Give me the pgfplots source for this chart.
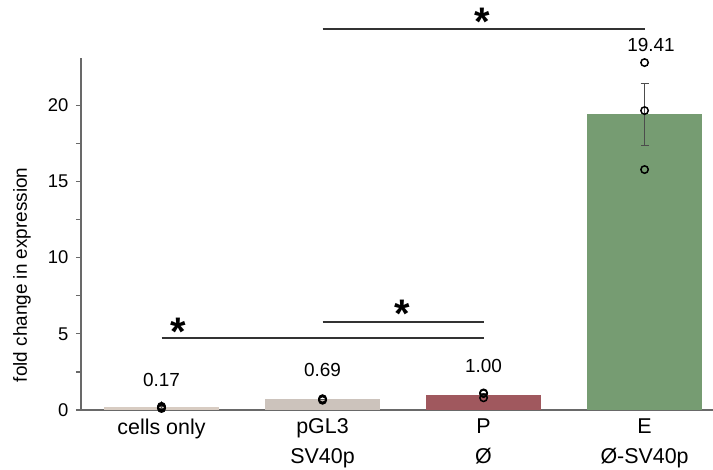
\documentclass[border=0pt]{standalone}
\usepackage{pgfplots}
\pgfplotsset{compat=1.18}
\usepackage{fontspec}
\setmainfont{Liberation Sans}
\definecolor{cellsc}{RGB}{216,204,194}
\definecolor{pglc}{RGB}{204,195,188}
\definecolor{pc}{RGB}{160,88,94}
\definecolor{ec}{RGB}{118,156,114}
\definecolor{axc}{RGB}{105,105,105}
\begin{document}
\begin{tikzpicture}
\useasboundingbox (-81bp,-60bp) rectangle (632bp,410bp);
\begin{axis}[
  scale only axis, width=632bp, height=352bp,
  at={(0,0)}, anchor=south west,
  xmin=-0.5, xmax=3.425, ymin=0, ymax=23.1,
  clip=false,
  axis lines*=left,
  axis line style={draw=axc, line width=1.8bp},
  /pgf/number format/assume math mode=true,
  xtick={0,1,2,3},
  xticklabels={cells only, {pGL3\\SV40p}, {P\\Ø}, {E\\Ø-SV40p}},
  xticklabel style={align=center, font=\fontsize{21.5}{30}\selectfont, yshift=-5bp},
  xtick align=inside,
  xtick style={draw=axc, line width=1.2bp, /pgfplots/major tick length=9bp},
  ytick={0,5,10,15,20},
  minor y tick num=1,
  ytick align=outside,
  ytick style={draw=axc, line width=1.2bp},
  major tick length=5bp, minor tick length=5bp,
  yticklabel style={font=\fontsize{18.5}{20}\selectfont, xshift=-4bp},
]
\addplot[ybar, bar width=0.71, bar shift=0pt, fill=cellsc, draw=none] coordinates {(0,0.17)};
\addplot[ybar, bar width=0.71, bar shift=0pt, fill=pglc, draw=none] coordinates {(1,0.69)};
\addplot[ybar, bar width=0.71, bar shift=0pt, fill=pc, draw=none] coordinates {(2,1.00)};
\addplot[ybar, bar width=0.71, bar shift=0pt, fill=ec, draw=none] coordinates {(3,19.41)};
% error bars (SEM)
\addplot[draw=none, mark=none,
  error bars/.cd, y dir=both, y explicit,
  error bar style={draw=black!70, line width=0.9bp},
  error mark options={rotate=90, mark size=4bp, draw=black!70, line width=0.9bp}]
  coordinates {(0,0.17) +- (0,0.04) (1,0.69) +- (0,0.03) (2,1.00) +- (0,0.10) (3,19.41) +- (0,2.05)};
% individual replicates
\addplot[only marks, mark=o, mark size=3.7bp, mark options={draw=black, line width=1.5bp}]
  coordinates {(0,0.10) (0,0.17) (0,0.24) (1,0.64) (1,0.69) (1,0.74) (2,0.80) (2,1.08) (2,1.12) (3,22.80) (3,19.65) (3,15.78)};
% value labels
\node[font=\fontsize{19}{20}\selectfont] at (axis cs:0,2.0) {0.17};
\node[font=\fontsize{19}{20}\selectfont] at (axis cs:1,2.6) {0.69};
\node[font=\fontsize{19}{20}\selectfont] at (axis cs:2,2.9) {1.00};
\node[font=\fontsize{19}{20}\selectfont] at (axis cs:3.04,23.95) {19.41};
% significance
\draw[black!80, line width=1.8bp] (axis cs:0,4.74) -- (axis cs:2,4.74);
\draw[black!80, line width=1.8bp] (axis cs:1,5.79) -- (axis cs:2,5.79);
\draw[black!80, line width=1.8bp] (axis cs:1,25.0) -- (axis cs:3,25.0);
\node[anchor=base, inner sep=0, font=\fontsize{40}{40}\selectfont\bfseries, yshift=-22bp] at (axis cs:0.105,5.66) {*};
\node[anchor=base, inner sep=0, font=\fontsize{40}{40}\selectfont\bfseries, yshift=-22bp] at (axis cs:1.497,6.84) {*};
\node[anchor=base, inner sep=0, font=\fontsize{40}{40}\selectfont\bfseries, yshift=-22bp] at (axis cs:1.99,26.0) {*};
% y label
\node[rotate=90, font=\fontsize{19}{20}\selectfont] at ([xshift=-59bp]rel axis cs:0,0.384) {fold change in expression};
\end{axis}
\end{tikzpicture}
\end{document}
